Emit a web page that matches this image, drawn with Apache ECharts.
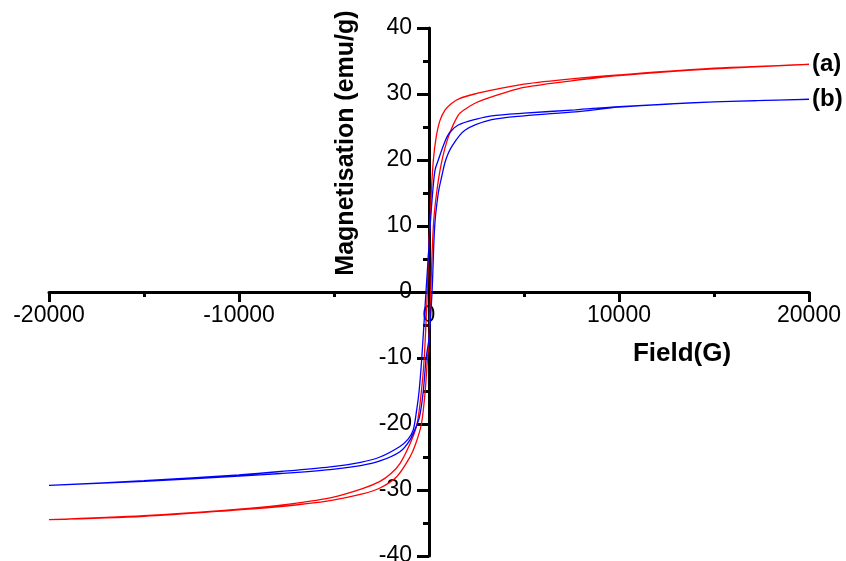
<!DOCTYPE html>
<html>
<head>
<meta charset="utf-8">
<script src="https://cdn.jsdelivr.net/npm/echarts@6/dist/echarts.min.js"></script>
<style>
    html, body { margin: 0; padding: 0; background: #fff; }
    #chart { width: 846px; height: 561px; }
</style>
</head>
<body>
<div id="chart"></div>
<script>
// 样品(a) 退磁支路(+20000 -> -20000)
const redDownH = [20000, 15000, 10000, 7500, 5000, 3500, 2400, 1600, 1200, 850, 580, 380, 230, 120, 50, 0, -90, -250, -400, -630, -1000, -1530, -2000, -2580, -3500, -5200, -7800, -10000, -15000, -20000];
const redDownM = [34.5, 33.9, 32.9, 32.3, 31.5, 30.7, 30.0, 29.3, 28.6, 27.6, 26.0, 23.5, 20.0, 15.0, 10.0, 8.0, 0, -10.0, -15.0, -20.0, -23.0, -26.0, -27.5, -28.7, -29.8, -31.2, -32.3, -32.9, -33.9, -34.5];
// 样品(a) 磁化支路(-20000 -> +20000)
const redUpH = [-20000, -15000, -10000, -7800, -5200, -3500, -2580, -1700, -1000, -700, -400, -200, -80, 0, 90, 230, 400, 650, 1020, 1540, 1900, 2420, 3030, 4000, 5000, 7500, 10000, 15000, 20000];
const redUpM = [-34.5, -34.0, -33.0, -32.5, -31.6, -30.6, -29.7, -28.0, -25.0, -23.0, -20.0, -15.0, -10.0, -7.0, 0, 10.0, 15.0, 19.5, 23.5, 26.8, 27.7, 28.6, 29.3, 30.2, 31.0, 32.0, 32.8, 33.8, 34.5];

// 样品(b) 退磁支路
const blueDownH = [20000, 15000, 10000, 7700, 5000, 3300, 2500, 1540, 1100, 840, 490, 320, 190, 60, 0, -160, -380, -520, -650, -830, -1100, -1530, -2580, -3600, -5200, -7800, -10000, -15000, -20000];
const blueDownM = [29.2, 28.8, 28.1, 27.6, 27.1, 26.7, 26.2, 25.3, 24.2, 22.8, 20.0, 18.5, 15.0, 10.0, 7.0, 0, -10.0, -15.0, -17.9, -20.9, -22.3, -23.4, -25.0, -25.8, -26.5, -27.2, -27.7, -28.6, -29.3];
// 样品(b) 磁化支路
const blueUpH = [-20000, -15000, -10000, -7800, -5200, -3600, -2580, -1530, -1000, -620, -470, -300, -150, 0, 160, 300, 490, 670, 880, 1190, 1890, 3300, 5000, 7700, 10000, 15000, 20000];
const blueUpM = [-29.3, -28.7, -27.9, -27.5, -26.9, -26.3, -25.6, -24.2, -22.4, -20.0, -18.5, -15.0, -10.0, -7.0, 0, 10.0, 15.0, 17.5, 20.0, 22.0, 24.5, 26.1, 26.7, 27.3, 28.0, 28.8, 29.2];

const sampleLabels = ['(a)', '(b)'];
const xTicks = { min: -20000, max: 20000, interval: 10000 };
const yTicks = { min: -40, max: 40, interval: 10 };

//两支路拼成一个回线,去掉重复的端点
function toLoop(h1, m1, h2, m2) {
    const pts = h1.map((h, i) => [h, m1[i]]);
    h2.forEach((h, i) => {
        const last = pts[pts.length - 1];
        if (last[0] !== h || last[1] !== m2[i]) pts.push([h, m2[i]]);
    });
    return pts;
}

const FONT = '"Liberation Sans", Arial, sans-serif';

const chartObj = echarts.init(document.getElementById('chart'));

const option = {
    animation: false,
    grid: {
        left: 49,
        right: 37,
        top: 28,
        bottom: 5,
        containLabel: false,
        outerBoundsMode: 'none'
    },
    xAxis: {
        type: 'value',
        position: 'bottom',
        offset: -264,
        min: xTicks.min,
        max: xTicks.max,
        interval: xTicks.interval,
        axisLine: { onZero: false, lineStyle: { color: '#000', width: 3 } },
        axisTick: { show: true, inside: false, length: 10, lineStyle: { color: '#000', width: 3 } },
        minorTick: { show: true, splitNumber: 2, length: 5, lineStyle: { color: '#000', width: 3 } },
        splitLine: { show: false },
        axisLabel: {
            color: '#000', fontSize: 23, fontFamily: FONT, margin: 12,
            formatter: v => String(v)
        }
    },
    yAxis: {
        type: 'value',
        position: 'left',
        offset: -380,
        min: yTicks.min,
        max: yTicks.max,
        interval: yTicks.interval,
        axisLine: { onZero: false, lineStyle: { color: '#000', width: 3 } },
        axisTick: { show: true, inside: false, length: 12, lineStyle: { color: '#000', width: 3 } },
        minorTick: { show: true, splitNumber: 2, length: 6, lineStyle: { color: '#000', width: 3 } },
        splitLine: { show: false },
        axisLabel: {
            color: '#000', fontSize: 23, fontFamily: FONT, margin: 17,
            formatter: v => String(v)
        }
    },
    graphic: [
        {
            type: 'text',
            x: 346,
            y: 143,
            rotation: Math.PI / 2,
            style: {
                text: 'Magnetisation (emu/g)',
                font: 'bold 25px ' + FONT,
                fill: '#000',
                textAlign: 'center',
                textVerticalAlign: 'middle'
            }
        },
        {
            type: 'text',
            x: 682,
            y: 354,
            style: {
                text: 'Field(G)',
                font: 'bold 26px ' + FONT,
                fill: '#000',
                textAlign: 'center',
                textVerticalAlign: 'middle'
            }
        }
    ],
    series: [
        {
            type: 'line',
            data: toLoop(redDownH, redDownM, redUpH, redUpM),
            showSymbol: false,
            smooth: 0.3,
            color: '#ff0000',
            lineStyle: { width: 1.3, color: '#ff0000' },
            endLabel: {
                show: true,
                formatter: sampleLabels[0],
                color: '#000',
                fontSize: 24,
                fontWeight: 'bold',
                fontFamily: FONT,
                distance: 3
            }
        },
        {
            type: 'line',
            data: toLoop(blueDownH, blueDownM, blueUpH, blueUpM),
            showSymbol: false,
            smooth: 0.3,
            color: '#0000ff',
            lineStyle: { width: 1.3, color: '#0000ff' },
            endLabel: {
                show: true,
                formatter: sampleLabels[1],
                color: '#000',
                fontSize: 24,
                fontWeight: 'bold',
                fontFamily: FONT,
                distance: 3
            }
        }
    ]
};

chartObj.setOption(option);
</script>
</body>
</html>
